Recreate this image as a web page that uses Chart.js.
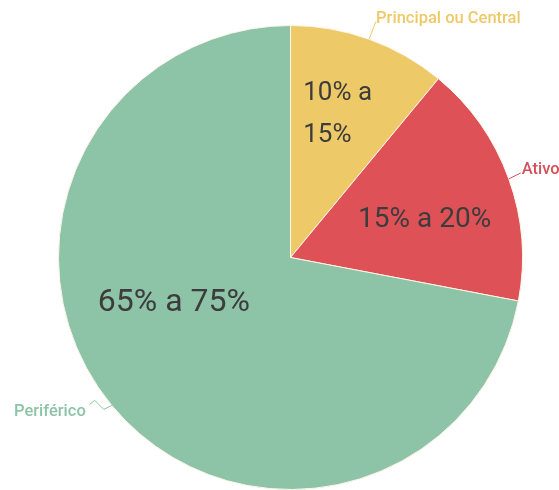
<!DOCTYPE html>
<html>
<head>
<meta charset="utf-8">
<script src="https://cdn.jsdelivr.net/npm/chart.js@4"></script>
<style>
  html, body { margin: 0; padding: 0; background: #fff; }
  canvas { display: block; }
</style>
</head>
<body>
<canvas id="chart" width="559" height="490"></canvas>
<script>
// data
const labels = ["Principal ou Central", "Ativo", "Periférico"];
const values = [11, 17, 72];
const innerText = [["10% a", "15%"], ["15% a 20%"], ["65% a 75%"]];

const colors = ["#eec968", "#de5257", "#8dc3a7"];
const labelColors = ["#eec968", "#d4505a", "#8dc3a7"];

// where the text sits inside each slice (fraction of the slice angle, fraction of radius, font size)
const innerPos = [
  { a: 0.46, r: 0.65, size: 26 },
  { a: 0.57, r: 0.60, size: 28 },
  { a: 0.57, r: 0.54, size: 32 },
];
// leader lines: points relative to the arc mid point, then text anchor
const leaders = [
  { pts: [[0, 0], [7, -18]], text: [7, -20], align: "left" },
  { pts: [[0, 0], [12, -6]], text: [13, -9], align: "left" },
  { pts: [[0, 0], [-8, 4], [-17, -5], [-22, -1]], text: [-26, 6], align: "right" },
];

const labelPlugin = {
  id: "sliceLabels",
  afterDatasetsDraw(chart) {
    const ctx = chart.ctx;
    const arcs = chart.getDatasetMeta(0).data;
    arcs.forEach((arc, i) => {
      const { x, y, startAngle, endAngle, outerRadius } = arc.getProps(
        ["x", "y", "startAngle", "endAngle", "outerRadius"], true);

      // inside text, lines left aligned as a block
      const p = innerPos[i];
      const ang = startAngle + (endAngle - startAngle) * p.a;
      const cx = x + Math.cos(ang) * outerRadius * p.r;
      const cy = y + Math.sin(ang) * outerRadius * p.r;
      ctx.save();
      ctx.fillStyle = "#3c3c3c";
      ctx.font = p.size + "px Roboto";
      ctx.textAlign = "left";
      ctx.textBaseline = "middle";
      const lines = innerText[i];
      const w = Math.max(...lines.map(t => ctx.measureText(t).width));
      const lh = p.size * 1.62;
      lines.forEach((t, k) => {
        ctx.fillText(t, cx - w / 2, cy + (k - (lines.length - 1) / 2) * lh);
      });
      ctx.restore();

      // outside label with leader
      const mid = (startAngle + endAngle) / 2;
      const ax = x + Math.cos(mid) * outerRadius;
      const ay = y + Math.sin(mid) * outerRadius;
      const L = leaders[i];
      ctx.save();
      ctx.strokeStyle = labelColors[i];
      ctx.lineWidth = 1;
      ctx.beginPath();
      L.pts.forEach(([dx, dy], k) => {
        if (k === 0) ctx.moveTo(ax + dx, ay + dy);
        else ctx.lineTo(ax + dx, ay + dy);
      });
      ctx.stroke();
      ctx.fillStyle = labelColors[i];
      ctx.font = "500 16.5px Roboto";
      ctx.textAlign = L.align;
      ctx.textBaseline = "middle";
      ctx.fillText(labels[i], ax + L.text[0], ay + L.text[1]);
      ctx.restore();
    });
  },
};

new Chart(document.getElementById("chart"), {
  type: "pie",
  data: {
    labels: labels,
    datasets: [{
      data: values,
      backgroundColor: colors,
      borderColor: "#fff5e8",
      borderWidth: 1,
    }],
  },
  options: {
    responsive: false,
    animation: false,
    layout: { padding: { left: 57, right: 35, top: 25, bottom: -2 } },
    plugins: {
      legend: { display: false },
      tooltip: { enabled: false },
    },
  },
  plugins: [labelPlugin],
});
</script>
</body>
</html>
